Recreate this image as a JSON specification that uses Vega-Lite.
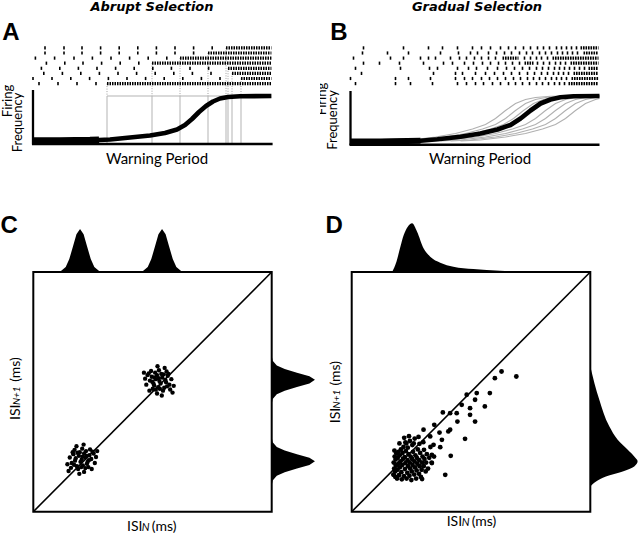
{
"$schema":"https://vega.github.io/schema/vega-lite/v6.json",
"padding":0,"spacing":0,"background":"white",
"config":{"view":{"stroke":null}},
"datasets":{
"spikesA":[{"r":1,"t":60},{"r":1,"t":155},{"r":1,"t":245},{"r":1,"t":338},{"r":1,"t":431},{"r":1,"t":524},{"r":1,"t":617},{"r":1,"t":710},{"r":1,"t":803},{"r":1,"t":896},
{"r":2,"t":60},{"r":2,"t":155},{"r":2,"t":245},{"r":2,"t":338},{"r":2,"t":431},{"r":2,"t":524},{"r":2,"t":617},{"r":2,"t":710},{"r":2,"t":803},
{"r":3,"t":12},{"r":3,"t":108},{"r":3,"t":205},{"r":3,"t":297},{"r":3,"t":390},{"r":3,"t":483},{"r":3,"t":576},{"r":3,"t":669},
{"r":4,"t":67},{"r":4,"t":159},{"r":4,"t":250},{"r":4,"t":343},{"r":4,"t":436},{"r":4,"t":529},
{"r":5,"t":42},{"r":5,"t":134},{"r":5,"t":227},{"r":5,"t":320},{"r":5,"t":413},{"r":5,"t":506},{"r":5,"t":599},{"r":5,"t":692},{"r":5,"t":785},{"r":5,"t":878},
{"r":6,"t":54},{"r":6,"t":147},{"r":6,"t":239},{"r":6,"t":332},{"r":6,"t":425},{"r":6,"t":518},{"r":6,"t":611},{"r":6,"t":704},{"r":6,"t":797},{"r":6,"t":890},
{"r":7,"t":0},{"r":7,"t":95},{"r":7,"t":189},{"r":7,"t":283},{"r":7,"t":377},{"r":7,"t":470},{"r":7,"t":563},{"r":7,"t":656},{"r":7,"t":749},{"r":7,"t":842},{"r":7,"t":935},
{"r":8,"t":30},{"r":8,"t":125},{"r":8,"t":220},{"r":8,"t":315}],
"burstA":[{"r":1,"t0":965,"t1":1192},{"r":2,"t0":875,"t1":1192},{"r":3,"t0":735,"t1":1192},{"r":4,"t0":595,"t1":1192},{"r":5,"t0":975,"t1":1192},{"r":6,"t0":995,"t1":1192},{"r":7,"t0":1040,"t1":1192},{"r":8,"t0":370,"t1":1192}],
"curveA":[{"t":0,"f":6.5},{"t":135,"f":6.7},{"t":285,"f":7.3},{"t":330,"f":8},{"t":385,"f":9},{"t":485,"f":13},{"t":585,"f":17},{"t":660,"f":22},{"t":720,"f":29},{"t":760,"f":38},{"t":795,"f":50},{"t":830,"f":64},{"t":865,"f":76},{"t":900,"f":85},{"t":935,"f":91},{"t":975,"f":94},{"t":1035,"f":95.4},{"t":1192,"f":96}],
"spikesB":[{"r":1,"t":65},{"r":1,"t":265},{"r":1,"t":390},{"r":1,"t":460},{"r":1,"t":535},{"r":1,"t":610},{"r":1,"t":655},{"r":1,"t":700},{"r":1,"t":750},{"r":1,"t":790},{"r":1,"t":825},{"r":1,"t":865},{"r":1,"t":900},{"r":1,"t":935},{"r":1,"t":965},{"r":1,"t":995},{"r":1,"t":1030},{"r":1,"t":1055},{"r":1,"t":1080},{"r":1,"t":1105},{"r":1,"t":1130},
{"r":2,"t":60},{"r":2,"t":185},{"r":2,"t":290},{"r":2,"t":450},{"r":2,"t":540},{"r":2,"t":600},{"r":2,"t":635},{"r":2,"t":690},{"r":2,"t":730},{"r":2,"t":770},{"r":2,"t":805},{"r":2,"t":845},{"r":2,"t":880},{"r":2,"t":910},{"r":2,"t":945},{"r":2,"t":975},{"r":2,"t":1005},{"r":2,"t":1035},{"r":2,"t":1060},{"r":2,"t":1085},{"r":2,"t":1110},{"r":2,"t":1135},
{"r":3,"t":15},{"r":3,"t":200},{"r":3,"t":265},{"r":3,"t":350},{"r":3,"t":390},{"r":3,"t":425},{"r":3,"t":500},{"r":3,"t":545},{"r":3,"t":580},{"r":3,"t":620},{"r":3,"t":655},{"r":3,"t":690},{"r":3,"t":725},{"r":3,"t":870},{"r":3,"t":900},{"r":3,"t":930},{"r":3,"t":955},{"r":3,"t":985},
{"r":4,"t":65},{"r":4,"t":145},{"r":4,"t":245},{"r":4,"t":365},{"r":4,"t":465},{"r":4,"t":510},{"r":4,"t":570},{"r":4,"t":615},{"r":4,"t":660},{"r":4,"t":700},{"r":4,"t":740},{"r":4,"t":775},{"r":4,"t":810},{"r":4,"t":845},{"r":4,"t":935},{"r":4,"t":965},{"r":4,"t":995},{"r":4,"t":1025},{"r":4,"t":1050},{"r":4,"t":1075},
{"r":5,"t":25},{"r":5,"t":250},{"r":5,"t":395},{"r":5,"t":435},{"r":5,"t":535},{"r":5,"t":590},{"r":5,"t":630},{"r":5,"t":685},{"r":5,"t":735},{"r":5,"t":780},{"r":5,"t":820},{"r":5,"t":860},{"r":5,"t":895},{"r":5,"t":930},{"r":5,"t":960},{"r":5,"t":990},{"r":5,"t":1020},{"r":5,"t":1045},{"r":5,"t":1070},{"r":5,"t":1095},{"r":5,"t":1120},{"r":5,"t":1145},{"r":5,"t":1170},
{"r":6,"t":55},{"r":6,"t":415},{"r":6,"t":525},{"r":6,"t":560},{"r":6,"t":625},{"r":6,"t":675},{"r":6,"t":720},{"r":6,"t":765},{"r":6,"t":805},{"r":6,"t":845},{"r":6,"t":885},{"r":6,"t":920},{"r":6,"t":955},{"r":6,"t":985},{"r":6,"t":1015},{"r":6,"t":1040},{"r":6,"t":1065},{"r":6,"t":1090},
{"r":7,"t":0},{"r":7,"t":225},{"r":7,"t":290},{"r":7,"t":400},{"r":7,"t":525},{"r":7,"t":570},{"r":7,"t":610},{"r":7,"t":655},{"r":7,"t":695},{"r":7,"t":735},{"r":7,"t":775},{"r":7,"t":815},{"r":7,"t":850},{"r":7,"t":885},{"r":7,"t":915},{"r":7,"t":945},{"r":7,"t":975},{"r":7,"t":1005},{"r":7,"t":1030},{"r":7,"t":1055},{"r":7,"t":1080},
{"r":8,"t":25},{"r":8,"t":225},{"r":8,"t":300},{"r":8,"t":410},{"r":8,"t":535},{"r":8,"t":580},{"r":8,"t":625},{"r":8,"t":665},{"r":8,"t":710},{"r":8,"t":750},{"r":8,"t":790},{"r":8,"t":825},{"r":8,"t":860},{"r":8,"t":895},{"r":8,"t":930},{"r":8,"t":960},{"r":8,"t":990},{"r":8,"t":1020},{"r":8,"t":1045},{"r":8,"t":1070}],
"burstB":[{"r":1,"t0":1150,"t1":1240},{"r":2,"t0":1165,"t1":1240},{"r":3,"t0":760,"t1":840},{"r":3,"t0":1010,"t1":1240},{"r":4,"t0":870,"t1":915},{"r":4,"t0":1100,"t1":1240},{"r":5,"t0":1190,"t1":1240},{"r":6,"t0":1115,"t1":1240},{"r":7,"t0":1105,"t1":1240},{"r":8,"t0":1090,"t1":1240}],
"curveB":[{"t":0,"f":5},{"t":150,"f":5.2},{"t":350,"f":6.5},{"t":435,"f":9.4},{"t":550,"f":14.6},{"t":650,"f":21},{"t":735,"f":29},{"t":800,"f":38},{"t":850,"f":51},{"t":900,"f":67},{"t":950,"f":81},{"t":1000,"f":89},{"t":1050,"f":93.4},{"t":1115,"f":95.4},{"t":1245,"f":96}],
"grayB":[{"c":1,"t":200,"f":6},{"c":1,"t":300,"f":8},{"c":1,"t":425,"f":14},{"c":1,"t":525,"f":21},{"c":1,"t":610,"f":30},{"c":1,"t":675,"f":39},{"c":1,"t":725,"f":51},{"c":1,"t":775,"f":67},{"c":1,"t":825,"f":81},{"c":1,"t":875,"f":89},{"c":1,"t":925,"f":93},{"c":1,"t":1000,"f":95.4},{"c":1,"t":1245,"f":96},
{"c":2,"t":250,"f":6},{"c":2,"t":350,"f":8},{"c":2,"t":475,"f":14},{"c":2,"t":575,"f":21},{"c":2,"t":660,"f":30},{"c":2,"t":725,"f":39},{"c":2,"t":775,"f":51},{"c":2,"t":825,"f":67},{"c":2,"t":875,"f":81},{"c":2,"t":925,"f":89},{"c":2,"t":975,"f":93},{"c":2,"t":1050,"f":95.4},{"c":2,"t":1245,"f":96},
{"c":3,"t":290,"f":6},{"c":3,"t":390,"f":8},{"c":3,"t":515,"f":14},{"c":3,"t":615,"f":21},{"c":3,"t":700,"f":30},{"c":3,"t":765,"f":39},{"c":3,"t":815,"f":51},{"c":3,"t":865,"f":67},{"c":3,"t":915,"f":81},{"c":3,"t":965,"f":89},{"c":3,"t":1015,"f":93},{"c":3,"t":1090,"f":95.4},{"c":3,"t":1245,"f":96},
{"c":4,"t":340,"f":6},{"c":4,"t":440,"f":8},{"c":4,"t":565,"f":14},{"c":4,"t":665,"f":21},{"c":4,"t":750,"f":30},{"c":4,"t":815,"f":39},{"c":4,"t":865,"f":51},{"c":4,"t":915,"f":67},{"c":4,"t":965,"f":81},{"c":4,"t":1015,"f":89},{"c":4,"t":1065,"f":93},{"c":4,"t":1140,"f":95.4},{"c":4,"t":1245,"f":96},
{"c":5,"t":400,"f":6},{"c":5,"t":500,"f":8},{"c":5,"t":625,"f":14},{"c":5,"t":725,"f":21},{"c":5,"t":810,"f":30},{"c":5,"t":875,"f":39},{"c":5,"t":925,"f":51},{"c":5,"t":975,"f":67},{"c":5,"t":1025,"f":81},{"c":5,"t":1075,"f":89},{"c":5,"t":1125,"f":93},{"c":5,"t":1200,"f":95.4},{"c":5,"t":1245,"f":96},
{"c":6,"t":450,"f":6},{"c":6,"t":550,"f":8},{"c":6,"t":675,"f":14},{"c":6,"t":775,"f":21},{"c":6,"t":860,"f":30},{"c":6,"t":925,"f":39},{"c":6,"t":975,"f":51},{"c":6,"t":1025,"f":67},{"c":6,"t":1075,"f":81},{"c":6,"t":1125,"f":89},{"c":6,"t":1175,"f":93},{"c":6,"t":1245,"f":95.5},
{"c":7,"t":500,"f":6},{"c":7,"t":600,"f":8},{"c":7,"t":725,"f":14},{"c":7,"t":825,"f":21},{"c":7,"t":910,"f":30},{"c":7,"t":975,"f":39},{"c":7,"t":1025,"f":51},{"c":7,"t":1075,"f":67},{"c":7,"t":1125,"f":81},{"c":7,"t":1175,"f":89},{"c":7,"t":1225,"f":93},{"c":7,"t":1245,"f":94},
{"c":8,"t":550,"f":6},{"c":8,"t":650,"f":8},{"c":8,"t":775,"f":14},{"c":8,"t":875,"f":21},{"c":8,"t":960,"f":30},{"c":8,"t":1025,"f":39},{"c":8,"t":1075,"f":51},{"c":8,"t":1125,"f":67},{"c":8,"t":1175,"f":81},{"c":8,"t":1225,"f":89},{"c":8,"t":1245,"f":91}],
"scC":[{"x":20.3,"y":21.8},{"x":21.8,"y":22.6},{"x":19.1,"y":23.3},{"x":22.8,"y":20.8},{"x":17.5,"y":21.3},{"x":20.8,"y":19.3},{"x":19.5,"y":24.8},{"x":23.5,"y":23.6},{"x":16.8,"y":24},{"x":22.1,"y":25.3},{"x":18.3,"y":19},{"x":24.3,"y":22},{"x":16.1,"y":20.3},{"x":20.5,"y":26.3},{"x":23.1,"y":18.6},{"x":18.8,"y":17.8},{"x":25.3,"y":24.3},{"x":15.3,"y":22.6},{"x":23.8,"y":26},{"x":17.3,"y":25.8},{"x":21.3,"y":16.6},{"x":15.8,"y":18.3},{"x":25.8,"y":20.3},{"x":18.1,"y":27.3},{"x":24.5,"y":17.8},{"x":26.3,"y":22.8},{"x":14.3,"y":19.8},{"x":21.1,"y":28},{"x":19.3,"y":15.8},{"x":22.3,"y":23.3},{"x":19.8,"y":20.8},{"x":21.3,"y":24.3},{"x":17.8,"y":22.3},{"x":23.3,"y":21.5},{"x":20.6,"y":23},{"x":18.5,"y":24.6},{"x":22.5,"y":20},{"x":16.5,"y":24.8},{"x":24.8,"y":25},{"x":20.1,"y":18.6},{"x":26.8,"y":25.3},{"x":14.8,"y":17},{"x":21.8,"y":18.2},{"x":17.1,"y":19.6},
{"x":52.9,"y":54.5},{"x":51.4,"y":55.3},{"x":54.1,"y":56},{"x":50.4,"y":53.5},{"x":55.7,"y":54},{"x":52.4,"y":52},{"x":53.7,"y":57.5},{"x":49.7,"y":56.3},{"x":56.4,"y":56.7},{"x":51.1,"y":58},{"x":54.9,"y":51.7},{"x":48.9,"y":54.7},{"x":57.1,"y":53},{"x":52.7,"y":59},{"x":50.1,"y":51.3},{"x":54.4,"y":50.5},{"x":47.9,"y":57},{"x":57.9,"y":55.3},{"x":49.4,"y":58.7},{"x":55.9,"y":58.5},{"x":51.9,"y":49.3},{"x":57.4,"y":51},{"x":47.4,"y":53},{"x":55.1,"y":60},{"x":48.7,"y":50.5},{"x":46.9,"y":55.5},{"x":58.9,"y":52.5},{"x":52.1,"y":60.7},{"x":53.9,"y":48.5},{"x":50.9,"y":56},{"x":53.4,"y":53.5},{"x":51.9,"y":57},{"x":55.4,"y":55},{"x":49.9,"y":54.2},{"x":52.6,"y":55.7},{"x":54.7,"y":57.3},{"x":50.7,"y":52.7},{"x":56.7,"y":57.5},{"x":48.4,"y":57.7},{"x":53.1,"y":51.3},{"x":46.4,"y":58},{"x":58.4,"y":49.7},{"x":51.4,"y":50.9},{"x":56.1,"y":52.3}],
"mtC":[{"x":9.6,"d":0},{"x":11.6,"d":0.4},{"x":13.6,"d":2.1},{"x":15.1,"d":5.4},{"x":16.6,"d":10.5},{"x":18.1,"d":15.7},{"x":19.6,"d":17.9},{"x":21.1,"d":15.7},{"x":22.6,"d":10.5},{"x":24.1,"d":5.4},{"x":25.6,"d":2.1},{"x":27.6,"d":0.4},{"x":29.6,"d":0},{"x":44,"d":0},{"x":46,"d":0.4},{"x":48,"d":2.1},{"x":49.5,"d":5.4},{"x":51,"d":10.5},{"x":52.5,"d":15.7},{"x":54,"d":17.9},{"x":55.5,"d":15.7},{"x":57,"d":10.5},{"x":58.5,"d":5.4},{"x":60,"d":2.1},{"x":62,"d":0.4},{"x":64,"d":0}],
"mrC":[{"y":11,"d":0},{"y":13,"d":0.4},{"y":15,"d":2.1},{"y":16.5,"d":5.4},{"y":18,"d":10.5},{"y":19.5,"d":15.7},{"y":21,"d":18},{"y":22.5,"d":15.7},{"y":24,"d":10.5},{"y":25.5,"d":5.4},{"y":27,"d":2.1},{"y":29,"d":0.4},{"y":31,"d":0},{"y":45,"d":0},{"y":47,"d":0.4},{"y":49,"d":2.1},{"y":50.5,"d":5.4},{"y":52,"d":10.5},{"y":53.5,"d":15.7},{"y":55,"d":18},{"y":56.5,"d":15.7},{"y":58,"d":10.5},{"y":59.5,"d":5.4},{"y":61,"d":2.1},{"y":63,"d":0.4},{"y":65,"d":0}],
"scD":[{"x":17.5,"y":15.5},{"x":17.8,"y":18},{"x":17.6,"y":20.5},{"x":18,"y":23},{"x":17.9,"y":25.5},{"x":18.2,"y":16.8},{"x":18.5,"y":19.3},{"x":18.4,"y":21.8},{"x":18.7,"y":24.3},{"x":18.3,"y":14.5},
{"x":19.2,"y":17.5},{"x":19.5,"y":20},{"x":19.3,"y":22.5},{"x":19.6,"y":25},{"x":19.8,"y":15.2},{"x":20.2,"y":18.5},{"x":20.4,"y":21},{"x":20.1,"y":23.5},{"x":20.6,"y":26},{"x":20.8,"y":16.5},
{"x":21.2,"y":19.5},{"x":21.5,"y":22},{"x":21.3,"y":24.5},{"x":21.7,"y":27},{"x":21.9,"y":14.8},{"x":22.3,"y":17.8},{"x":22.5,"y":20.3},{"x":22.2,"y":22.8},{"x":22.7,"y":25.3},{"x":22.9,"y":28.5},
{"x":23.3,"y":16.2},{"x":23.6,"y":19},{"x":23.4,"y":21.5},{"x":23.8,"y":24},{"x":23.5,"y":26.7},{"x":24.2,"y":15},{"x":24.5,"y":18},{"x":24.3,"y":20.5},{"x":24.7,"y":23},{"x":24.4,"y":29.5},
{"x":25.2,"y":16.8},{"x":25.5,"y":19.5},{"x":25.3,"y":22},{"x":25.7,"y":25},{"x":25.4,"y":27.8},{"x":26.2,"y":15.5},{"x":26.5,"y":18.5},{"x":26.3,"y":21},{"x":26.7,"y":23.5},{"x":26.4,"y":30.5},
{"x":27.2,"y":17.2},{"x":27.5,"y":20},{"x":27.3,"y":22.5},{"x":27.7,"y":26},{"x":28.2,"y":15.8},{"x":28.5,"y":19},{"x":28.3,"y":21.5},{"x":28.7,"y":24.5},{"x":28.4,"y":28.3},{"x":29.3,"y":17.5},
{"x":29.5,"y":20.5},{"x":29.7,"y":23},{"x":30.2,"y":19},{"x":30.5,"y":22},{"x":30.3,"y":25.8},{"x":31.2,"y":20.5},{"x":31.5,"y":24},{"x":32,"y":18},{"x":32.5,"y":22.5},{"x":33,"y":27},
{"x":19,"y":13.8},{"x":21,"y":13.5},{"x":23,"y":13.8},{"x":20,"y":28.5},{"x":24,"y":31.5},{"x":26,"y":28.5},{"x":28,"y":31.2},{"x":30,"y":29},{"x":22,"y":30.8},{"x":27,"y":13.8},
{"x":25,"y":13.2},{"x":29,"y":14.5},{"x":31,"y":16.8},{"x":33.5,"y":20.5},{"x":34.5,"y":23},
{"x":62.8,"y":58.5},{"x":69,"y":56.4},{"x":60,"y":55.7},{"x":57.9,"y":49.5},{"x":52.4,"y":49.5},{"x":51.7,"y":46.7},{"x":48.2,"y":48.8},{"x":46.1,"y":44.6},{"x":55.8,"y":43.9},{"x":49.6,"y":43.2},{"x":44,"y":41.1},{"x":41.25,"y":41.1},{"x":38.2,"y":41.4},{"x":49.6,"y":40.4},{"x":44.3,"y":37.6},{"x":51.7,"y":37.6},{"x":34.6,"y":36.25},{"x":41.25,"y":34.2},{"x":40.5,"y":33.5},{"x":30.1,"y":34.2},{"x":36.8,"y":33},{"x":32.9,"y":31.4},{"x":37.8,"y":30},{"x":47.5,"y":30.4},{"x":22.5,"y":28.9},{"x":34.3,"y":27.9},{"x":37.1,"y":26.9},{"x":41.5,"y":23.3},{"x":33.6,"y":23.75},{"x":33.6,"y":20.3},{"x":39.2,"y":15.4},{"x":29.5,"y":13.6},{"x":17.6,"y":15.4}],
"mtD":[{"x":16.95,"d":0},{"x":18.75,"d":4.3},{"x":20.4,"d":10.5},{"x":21.8,"d":15.4},{"x":23.5,"d":18.9},{"x":25.3,"d":20.3},{"x":27.4,"d":16.8},{"x":30.1,"d":9.9},{"x":32.9,"d":6.4},{"x":37.1,"d":3.9},{"x":42.6,"d":2.2},{"x":51,"d":1.2},{"x":62.1,"d":0.5},{"x":73.2,"d":0}],
"mrD":[{"y":10.5,"d":0},{"y":12.6,"d":2.4},{"y":14.7,"d":6.5},{"y":16.8,"d":13.5},{"y":18.9,"d":18.3},{"y":21,"d":19.7},{"y":23,"d":18.3},{"y":25.8,"d":15.6},{"y":30,"d":11.4},{"y":35.6,"d":7.9},{"y":46.7,"d":3.75},{"y":60.6,"d":0}]
},
"vconcat":[
{"hconcat":[
{"width":320,"height":200,"resolve":{"scale":{"x":"independent","y":"independent"}},
"layer":[
{"data":{"name":"burstA"},"mark":{"type":"rule","color":"#b3b3b3","strokeWidth":1},"encoding":{"x":{"field":"t0","type":"quantitative","scale":{"domain":[-165,1435],"nice":false,"zero":false},"axis":null},"y":{"datum":0,"type":"quantitative","scale":{"domain":[-112,288],"nice":false,"zero":false},"axis":null},"y2":{"datum":96}}},
{"data":{"name":"burstA"},"mark":{"type":"rule","color":"#b3b3b3","strokeWidth":1},"encoding":{"x":{"aggregate":"min","field":"t0","type":"quantitative","scale":{"domain":[-165,1435],"nice":false,"zero":false},"axis":null},"x2":{"aggregate":"max","field":"t0"},"y":{"datum":96,"type":"quantitative","scale":{"domain":[-112,288],"nice":false,"zero":false},"axis":null}}},
{"data":{"name":"burstA"},"mark":{"type":"rule","color":"#a0a0a0","strokeWidth":1,"strokeDash":[1,1.5]},"encoding":{"x":{"field":"t0","type":"quantitative","scale":{"domain":[-165,1435],"nice":false,"zero":false},"axis":null},"y":{"field":"r","type":"quantitative","scale":{"domain":[-8.39,30.82],"nice":false,"zero":false,"reverse":true},"axis":null},"y2":{"datum":10.43}}},
{"data":{"name":"spikesA"},"mark":{"type":"tick","orient":"vertical","size":3.2,"thickness":1.6,"color":"black","opacity":1},"encoding":{"x":{"field":"t","type":"quantitative","scale":{"domain":[-165,1435],"nice":false,"zero":false},"axis":null},"y":{"field":"r","type":"quantitative","scale":{"domain":[-8.39,30.82],"nice":false,"zero":false,"reverse":true},"axis":null}}},
{"data":{"name":"burstA"},"mark":{"type":"rule","color":"black","strokeWidth":3.2,"strokeDash":[1.5,1],"strokeCap":"butt"},"encoding":{"x":{"field":"t0","type":"quantitative","scale":{"domain":[-165,1435],"nice":false,"zero":false},"axis":null},"x2":{"field":"t1"},"y":{"field":"r","type":"quantitative","scale":{"domain":[-8.39,30.82],"nice":false,"zero":false,"reverse":true},"axis":null}}},
{"data":{"values":[{}]},"mark":{"type":"rule","color":"black","strokeWidth":2.3},"encoding":{"x":{"datum":0,"type":"quantitative","scale":{"domain":[-165,1435],"nice":false,"zero":false},"axis":null},"y":{"datum":-1,"type":"quantitative","scale":{"domain":[-112,288],"nice":false,"zero":false},"axis":null},"y2":{"datum":108}}},
{"data":{"values":[{}]},"mark":{"type":"rule","color":"black","strokeWidth":2.3},"encoding":{"x":{"datum":-5,"type":"quantitative","scale":{"domain":[-165,1435],"nice":false,"zero":false},"axis":null},"x2":{"datum":1198},"y":{"datum":0,"type":"quantitative","scale":{"domain":[-112,288],"nice":false,"zero":false},"axis":null}}},
{"data":{"name":"curveA"},"transform":[{"filter":"datum.t <= 330"}],"mark":{"type":"line","color":"black","strokeWidth":7,"strokeCap":"butt"},"encoding":{"x":{"field":"t","type":"quantitative","scale":{"domain":[-165,1435],"nice":false,"zero":false},"axis":null},"y":{"field":"f","type":"quantitative","scale":{"domain":[-112,288],"nice":false,"zero":false},"axis":null}}},
{"data":{"name":"curveA"},"mark":{"type":"line","color":"black","strokeWidth":4.6,"strokeCap":"butt","strokeJoin":"round"},"encoding":{"x":{"field":"t","type":"quantitative","scale":{"domain":[-165,1435],"nice":false,"zero":false},"axis":null},"y":{"field":"f","type":"quantitative","scale":{"domain":[-112,288],"nice":false,"zero":false},"axis":null}}},
{"data":{"values":[{"s":"Abrupt Selection"}]},"mark":{"type":"text","font":"DejaVu Sans","fontSize":13,"fontWeight":"bold","fontStyle":"italic","align":"center","baseline":"alphabetic"},"encoding":{"text":{"field":"s"},"x":{"datum":595,"type":"quantitative","scale":{"domain":[-165,1435],"nice":false,"zero":false},"axis":null},"y":{"datum":266,"type":"quantitative","scale":{"domain":[-112,288],"nice":false,"zero":false},"axis":null}}},
{"data":{"values":[{"s":"A"}]},"mark":{"type":"text","font":"Liberation Sans","fontSize":24,"fontWeight":"bold","align":"center","baseline":"alphabetic"},"encoding":{"text":{"field":"s"},"x":{"datum":-111,"type":"quantitative","scale":{"domain":[-165,1435],"nice":false,"zero":false},"axis":null},"y":{"datum":208,"type":"quantitative","scale":{"domain":[-112,288],"nice":false,"zero":false},"axis":null}}},
{"data":{"values":[{"s":"Firing"}]},"mark":{"type":"text","font":"Lato","fontSize":13,"angle":270,"align":"center","baseline":"middle"},"encoding":{"text":{"field":"s"},"x":{"datum":-127.5,"type":"quantitative","scale":{"domain":[-165,1435],"nice":false,"zero":false},"axis":null},"y":{"datum":86,"type":"quantitative","scale":{"domain":[-112,288],"nice":false,"zero":false},"axis":null}}},
{"data":{"values":[{"s":"Frequency"}]},"mark":{"type":"text","font":"Lato","fontSize":13,"angle":270,"align":"center","baseline":"middle"},"encoding":{"text":{"field":"s"},"x":{"datum":-75,"type":"quantitative","scale":{"domain":[-165,1435],"nice":false,"zero":false},"axis":null},"y":{"datum":43,"type":"quantitative","scale":{"domain":[-112,288],"nice":false,"zero":false},"axis":null}}},
{"data":{"values":[{"s":"Warning Period"}]},"mark":{"type":"text","font":"Lato","fontSize":15,"align":"center","baseline":"alphabetic"},"encoding":{"text":{"field":"s"},"x":{"datum":620,"type":"quantitative","scale":{"domain":[-165,1435],"nice":false,"zero":false},"axis":null},"y":{"datum":-39,"type":"quantitative","scale":{"domain":[-112,288],"nice":false,"zero":false},"axis":null}}}
]},
{"width":320,"height":200,"resolve":{"scale":{"x":"independent","y":"independent"}},
"layer":[
{"data":{"name":"grayB"},"mark":{"type":"line","color":"#b0b0b0","strokeWidth":1.1},"encoding":{"detail":{"field":"c"},"x":{"field":"t","type":"quantitative","scale":{"domain":[-152.5,1447.5],"nice":false,"zero":false},"axis":null},"y":{"field":"f","type":"quantitative","scale":{"domain":[-112,288],"nice":false,"zero":false},"axis":null}}},
{"data":{"name":"spikesB"},"mark":{"type":"tick","orient":"vertical","size":3.2,"thickness":1.6,"color":"black","opacity":1},"encoding":{"x":{"field":"t","type":"quantitative","scale":{"domain":[-152.5,1447.5],"nice":false,"zero":false},"axis":null},"y":{"field":"r","type":"quantitative","scale":{"domain":[-8.39,30.82],"nice":false,"zero":false,"reverse":true},"axis":null}}},
{"data":{"name":"burstB"},"mark":{"type":"rule","color":"black","strokeWidth":3.2,"strokeDash":[1.6,0.9],"strokeCap":"butt"},"encoding":{"x":{"field":"t0","type":"quantitative","scale":{"domain":[-152.5,1447.5],"nice":false,"zero":false},"axis":null},"x2":{"field":"t1"},"y":{"field":"r","type":"quantitative","scale":{"domain":[-8.39,30.82],"nice":false,"zero":false,"reverse":true},"axis":null}}},
{"data":{"values":[{}]},"mark":{"type":"rule","color":"black","strokeWidth":2.3},"encoding":{"x":{"datum":0,"type":"quantitative","scale":{"domain":[-152.5,1447.5],"nice":false,"zero":false},"axis":null},"y":{"datum":-2,"type":"quantitative","scale":{"domain":[-112,288],"nice":false,"zero":false},"axis":null},"y2":{"datum":106}}},
{"data":{"values":[{}]},"mark":{"type":"rule","color":"black","strokeWidth":2.3},"encoding":{"x":{"datum":-5,"type":"quantitative","scale":{"domain":[-152.5,1447.5],"nice":false,"zero":false},"axis":null},"x2":{"datum":1245},"y":{"datum":-1.5,"type":"quantitative","scale":{"domain":[-112,288],"nice":false,"zero":false},"axis":null}}},
{"data":{"name":"curveB"},"transform":[{"filter":"datum.t <= 350"}],"mark":{"type":"line","color":"black","strokeWidth":6,"strokeCap":"butt"},"encoding":{"x":{"field":"t","type":"quantitative","scale":{"domain":[-152.5,1447.5],"nice":false,"zero":false},"axis":null},"y":{"field":"f","type":"quantitative","scale":{"domain":[-112,288],"nice":false,"zero":false},"axis":null}}},
{"data":{"name":"curveB"},"mark":{"type":"line","color":"black","strokeWidth":4.6,"strokeCap":"butt","strokeJoin":"round"},"encoding":{"x":{"field":"t","type":"quantitative","scale":{"domain":[-152.5,1447.5],"nice":false,"zero":false},"axis":null},"y":{"field":"f","type":"quantitative","scale":{"domain":[-112,288],"nice":false,"zero":false},"axis":null}}},
{"data":{"values":[{"s":"Gradual Selection"}]},"mark":{"type":"text","font":"DejaVu Sans","fontSize":13,"fontWeight":"bold","fontStyle":"italic","align":"center","baseline":"alphabetic"},"encoding":{"text":{"field":"s"},"x":{"datum":632.5,"type":"quantitative","scale":{"domain":[-152.5,1447.5],"nice":false,"zero":false},"axis":null},"y":{"datum":266,"type":"quantitative","scale":{"domain":[-112,288],"nice":false,"zero":false},"axis":null}}},
{"data":{"values":[{"s":"B"}]},"mark":{"type":"text","font":"Liberation Sans","fontSize":24,"fontWeight":"bold","align":"center","baseline":"alphabetic"},"encoding":{"text":{"field":"s"},"x":{"datum":-57.5,"type":"quantitative","scale":{"domain":[-152.5,1447.5],"nice":false,"zero":false},"axis":null},"y":{"datum":208,"type":"quantitative","scale":{"domain":[-112,288],"nice":false,"zero":false},"axis":null}}},
{"data":{"values":[{"s":"Firing"}]},"mark":{"type":"text","font":"Lato","fontSize":13,"angle":270,"align":"center","baseline":"middle","clip":true},"encoding":{"text":{"field":"s"},"x":{"datum":-142.5,"type":"quantitative","scale":{"domain":[-152.5,1447.5],"nice":false,"zero":false},"axis":null},"y":{"datum":90,"type":"quantitative","scale":{"domain":[-112,288],"nice":false,"zero":false},"axis":null}}},
{"data":{"values":[{"s":"Frequency"}]},"mark":{"type":"text","font":"Lato","fontSize":13,"angle":270,"align":"center","baseline":"middle","clip":true},"encoding":{"text":{"field":"s"},"x":{"datum":-90,"type":"quantitative","scale":{"domain":[-152.5,1447.5],"nice":false,"zero":false},"axis":null},"y":{"datum":48,"type":"quantitative","scale":{"domain":[-112,288],"nice":false,"zero":false},"axis":null}}},
{"data":{"values":[{"s":"Warning Period"}]},"mark":{"type":"text","font":"Lato","fontSize":15,"align":"center","baseline":"alphabetic"},"encoding":{"text":{"field":"s"},"x":{"datum":647.5,"type":"quantitative","scale":{"domain":[-152.5,1447.5],"nice":false,"zero":false},"axis":null},"y":{"datum":-39,"type":"quantitative","scale":{"domain":[-112,288],"nice":false,"zero":false},"axis":null}}}
]}
],"spacing":0,"bounds":"flush"},
{"hconcat":[
{"width":320,"height":335,"resolve":{"scale":{"x":"independent","y":"independent"}},
"layer":[
{"data":{"name":"mtC"},"mark":{"type":"area","color":"black","opacity":1},"encoding":{"x":{"field":"x","type":"quantitative","scale":{"domain":[-13.97,120.26],"nice":false,"zero":false},"axis":null},"y":{"field":"d","type":"quantitative","scale":{"domain":[-109.58,30],"nice":false,"zero":false},"axis":null},"y2":{"datum":0}}},
{"data":{"name":"mrC"},"mark":{"type":"area","color":"black","opacity":1,"orient":"horizontal"},"encoding":{"y":{"field":"y","type":"quantitative","scale":{"domain":[-9.72,130.04],"nice":false,"zero":false},"axis":null},"x":{"field":"d","type":"quantitative","scale":{"domain":[-113.2,20.1],"nice":false,"zero":false},"axis":null},"x2":{"datum":0}}},
{"data":{"values":[{}]},"mark":{"type":"rect","fillOpacity":0,"stroke":"black","strokeWidth":2},"encoding":{"x":{"datum":0,"type":"quantitative","scale":{"domain":[-13.97,120.26],"nice":false,"zero":false},"axis":null},"x2":{"datum":100},"y":{"datum":0,"type":"quantitative","scale":{"domain":[-9.72,130.04],"nice":false,"zero":false},"axis":null},"y2":{"datum":100}}},
{"data":{"values":[{}]},"mark":{"type":"rule","color":"black","strokeWidth":1.6},"encoding":{"x":{"datum":0,"type":"quantitative","scale":{"domain":[-13.97,120.26],"nice":false,"zero":false},"axis":null},"x2":{"datum":100},"y":{"datum":0,"type":"quantitative","scale":{"domain":[-9.72,130.04],"nice":false,"zero":false},"axis":null},"y2":{"datum":100}}},
{"data":{"name":"scC"},"mark":{"type":"circle","size":19,"color":"black","opacity":1},"encoding":{"x":{"field":"x","type":"quantitative","scale":{"domain":[-13.97,120.26],"nice":false,"zero":false},"axis":null},"y":{"field":"y","type":"quantitative","scale":{"domain":[-9.72,130.04],"nice":false,"zero":false},"axis":null}}},
{"data":{"values":[{"s":"C"}]},"mark":{"type":"text","font":"Liberation Sans","fontSize":24,"fontWeight":"bold","align":"center","baseline":"alphabetic"},"encoding":{"text":{"field":"s"},"x":{"datum":-10.1,"type":"quantitative","scale":{"domain":[-13.97,120.26],"nice":false,"zero":false},"axis":null},"y":{"datum":116.1,"type":"quantitative","scale":{"domain":[-9.72,130.04],"nice":false,"zero":false},"axis":null}}},
{"data":{"values":[{"s":"ISI"}]},"mark":{"type":"text","font":"Lato","fontSize":14,"align":"left","baseline":"alphabetic"},"encoding":{"text":{"field":"s"},"x":{"datum":39.3,"type":"quantitative","scale":{"domain":[-13.97,120.26],"nice":false,"zero":false},"axis":null},"y":{"datum":-8.05,"type":"quantitative","scale":{"domain":[-9.72,130.04],"nice":false,"zero":false},"axis":null}}},
{"data":{"values":[{"s":"N"}]},"mark":{"type":"text","font":"Lato","fontSize":11,"fontStyle":"italic","align":"left","baseline":"alphabetic"},"encoding":{"text":{"field":"s"},"x":{"datum":45.5,"type":"quantitative","scale":{"domain":[-13.97,120.26],"nice":false,"zero":false},"axis":null},"y":{"datum":-8.05,"type":"quantitative","scale":{"domain":[-9.72,130.04],"nice":false,"zero":false},"axis":null}}},
{"data":{"values":[{"s":"(ms)"}]},"mark":{"type":"text","font":"Lato","fontSize":14,"align":"left","baseline":"alphabetic"},"encoding":{"text":{"field":"s"},"x":{"datum":49.7,"type":"quantitative","scale":{"domain":[-13.97,120.26],"nice":false,"zero":false},"axis":null},"y":{"datum":-8.05,"type":"quantitative","scale":{"domain":[-9.72,130.04],"nice":false,"zero":false},"axis":null}}},
{"data":{"values":[{"s":"ISI"}]},"mark":{"type":"text","font":"Lato","fontSize":14,"angle":270,"align":"left","baseline":"alphabetic"},"encoding":{"text":{"field":"s"},"x":{"datum":-5.45,"type":"quantitative","scale":{"domain":[-13.97,120.26],"nice":false,"zero":false},"axis":null},"y":{"datum":38.3,"type":"quantitative","scale":{"domain":[-9.72,130.04],"nice":false,"zero":false},"axis":null}}},
{"data":{"values":[{"s":"N+1"}]},"mark":{"type":"text","font":"Lato","fontSize":10,"fontStyle":"italic","angle":270,"align":"left","baseline":"alphabetic"},"encoding":{"text":{"field":"s"},"x":{"datum":-5.45,"type":"quantitative","scale":{"domain":[-13.97,120.26],"nice":false,"zero":false},"axis":null},"y":{"datum":44.5,"type":"quantitative","scale":{"domain":[-9.72,130.04],"nice":false,"zero":false},"axis":null}}},
{"data":{"values":[{"s":"(ms)"}]},"mark":{"type":"text","font":"Lato","fontSize":14,"angle":270,"align":"left","baseline":"alphabetic"},"encoding":{"text":{"field":"s"},"x":{"datum":-5.45,"type":"quantitative","scale":{"domain":[-13.97,120.26],"nice":false,"zero":false},"axis":null},"y":{"datum":54.2,"type":"quantitative","scale":{"domain":[-9.72,130.04],"nice":false,"zero":false},"axis":null}}}
]},
{"width":320,"height":335,"resolve":{"scale":{"x":"independent","y":"independent"}},
"layer":[
{"data":{"name":"mtD"},"mark":{"type":"area","color":"black","opacity":1,"interpolate":"monotone"},"encoding":{"x":{"field":"x","type":"quantitative","scale":{"domain":[-13.29,120.83],"nice":false,"zero":false},"axis":null},"y":{"field":"d","type":"quantitative","scale":{"domain":[-109.58,30],"nice":false,"zero":false},"axis":null},"y2":{"datum":0}}},
{"data":{"name":"mrD"},"mark":{"type":"area","color":"black","opacity":1,"orient":"horizontal","interpolate":"monotone"},"encoding":{"y":{"field":"y","type":"quantitative","scale":{"domain":[-9.72,130.04],"nice":false,"zero":false},"axis":null},"x":{"field":"d","type":"quantitative","scale":{"domain":[-112.6,20.7],"nice":false,"zero":false},"axis":null},"x2":{"datum":0}}},
{"data":{"values":[{}]},"mark":{"type":"rect","fillOpacity":0,"stroke":"black","strokeWidth":2},"encoding":{"x":{"datum":0,"type":"quantitative","scale":{"domain":[-13.29,120.83],"nice":false,"zero":false},"axis":null},"x2":{"datum":100},"y":{"datum":0,"type":"quantitative","scale":{"domain":[-9.72,130.04],"nice":false,"zero":false},"axis":null},"y2":{"datum":100}}},
{"data":{"values":[{}]},"mark":{"type":"rule","color":"black","strokeWidth":1.6},"encoding":{"x":{"datum":0,"type":"quantitative","scale":{"domain":[-13.29,120.83],"nice":false,"zero":false},"axis":null},"x2":{"datum":100},"y":{"datum":0,"type":"quantitative","scale":{"domain":[-9.72,130.04],"nice":false,"zero":false},"axis":null},"y2":{"datum":100}}},
{"data":{"name":"scD"},"mark":{"type":"circle","size":23,"color":"black","opacity":1},"encoding":{"x":{"field":"x","type":"quantitative","scale":{"domain":[-13.29,120.83],"nice":false,"zero":false},"axis":null},"y":{"field":"y","type":"quantitative","scale":{"domain":[-9.72,130.04],"nice":false,"zero":false},"axis":null}}},
{"data":{"values":[{"s":"D"}]},"mark":{"type":"text","font":"Liberation Sans","fontSize":24,"fontWeight":"bold","align":"center","baseline":"alphabetic"},"encoding":{"text":{"field":"s"},"x":{"datum":-7.4,"type":"quantitative","scale":{"domain":[-13.29,120.83],"nice":false,"zero":false},"axis":null},"y":{"datum":116.1,"type":"quantitative","scale":{"domain":[-9.72,130.04],"nice":false,"zero":false},"axis":null}}},
{"data":{"values":[{"s":"ISI"}]},"mark":{"type":"text","font":"Lato","fontSize":14,"align":"left","baseline":"alphabetic"},"encoding":{"text":{"field":"s"},"x":{"datum":39.8,"type":"quantitative","scale":{"domain":[-13.29,120.83],"nice":false,"zero":false},"axis":null},"y":{"datum":-5.97,"type":"quantitative","scale":{"domain":[-9.72,130.04],"nice":false,"zero":false},"axis":null}}},
{"data":{"values":[{"s":"N"}]},"mark":{"type":"text","font":"Lato","fontSize":11,"fontStyle":"italic","align":"left","baseline":"alphabetic"},"encoding":{"text":{"field":"s"},"x":{"datum":46.1,"type":"quantitative","scale":{"domain":[-13.29,120.83],"nice":false,"zero":false},"axis":null},"y":{"datum":-5.97,"type":"quantitative","scale":{"domain":[-9.72,130.04],"nice":false,"zero":false},"axis":null}}},
{"data":{"values":[{"s":"(ms)"}]},"mark":{"type":"text","font":"Lato","fontSize":14,"align":"left","baseline":"alphabetic"},"encoding":{"text":{"field":"s"},"x":{"datum":50.3,"type":"quantitative","scale":{"domain":[-13.29,120.83],"nice":false,"zero":false},"axis":null},"y":{"datum":-5.97,"type":"quantitative","scale":{"domain":[-9.72,130.04],"nice":false,"zero":false},"axis":null}}},
{"data":{"values":[{"s":"ISI"}]},"mark":{"type":"text","font":"Lato","fontSize":14,"angle":270,"align":"left","baseline":"alphabetic"},"encoding":{"text":{"field":"s"},"x":{"datum":-4.8,"type":"quantitative","scale":{"domain":[-13.29,120.83],"nice":false,"zero":false},"axis":null},"y":{"datum":36.9,"type":"quantitative","scale":{"domain":[-9.72,130.04],"nice":false,"zero":false},"axis":null}}},
{"data":{"values":[{"s":"N+1"}]},"mark":{"type":"text","font":"Lato","fontSize":10,"fontStyle":"italic","angle":270,"align":"left","baseline":"alphabetic"},"encoding":{"text":{"field":"s"},"x":{"datum":-4.8,"type":"quantitative","scale":{"domain":[-13.29,120.83],"nice":false,"zero":false},"axis":null},"y":{"datum":43.1,"type":"quantitative","scale":{"domain":[-9.72,130.04],"nice":false,"zero":false},"axis":null}}},
{"data":{"values":[{"s":"(ms)"}]},"mark":{"type":"text","font":"Lato","fontSize":14,"angle":270,"align":"left","baseline":"alphabetic"},"encoding":{"text":{"field":"s"},"x":{"datum":-4.8,"type":"quantitative","scale":{"domain":[-13.29,120.83],"nice":false,"zero":false},"axis":null},"y":{"datum":52.6,"type":"quantitative","scale":{"domain":[-9.72,130.04],"nice":false,"zero":false},"axis":null}}}
]}
],"spacing":0,"bounds":"flush"}
]
}
